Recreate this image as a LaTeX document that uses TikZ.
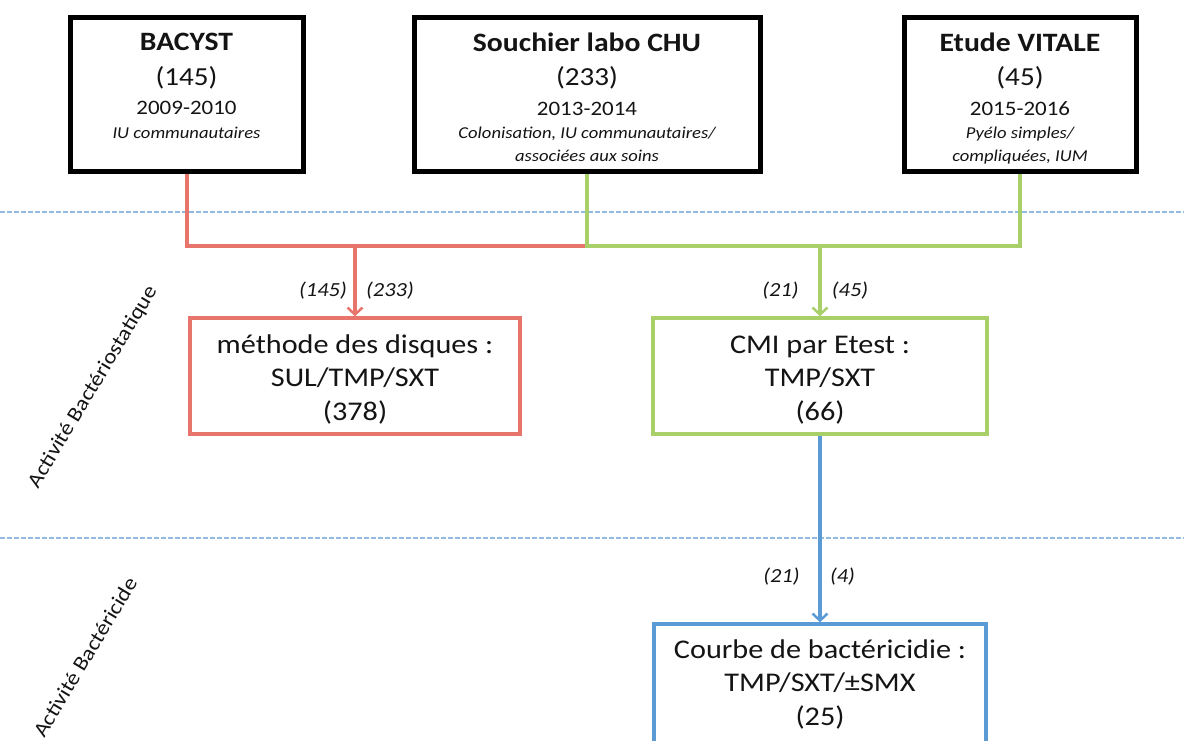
\documentclass[tikz,border=0pt]{standalone}
\usepackage{fontspec}
\setmainfont[FakeStretch=1.12]{Carlito}
\usetikzlibrary{arrows.meta}
\definecolor{cred}{HTML}{E8756B}
\definecolor{cgreen}{HTML}{A9CF68}
\definecolor{cblue}{HTML}{5B9BD5}
\definecolor{cdash}{HTML}{92BBE3}
\definecolor{ctext}{HTML}{141414}
\tikzset{
  srcbox/.style={draw=black, line width=5pt, fill=white, align=center, inner sep=0pt, text=ctext,
    font={\fontsize{20}{23.5}\selectfont\lineskiplimit=-100pt\lineskip=0pt}},
  resbox/.style={line width=3.5pt, fill=white, align=center, inner sep=0pt, text=ctext,
    font={\fontsize{27}{33.5}\selectfont\lineskiplimit=-100pt\lineskip=0pt}},
  conn/.style={line width=4pt},
  arr/.style={line width=4pt, -{Straight Barb[length=7pt,width=15pt,line width=2.5pt]}},
  cnt/.style={font=\fontsize{20}{24}\selectfont\itshape, text=ctext, inner sep=0pt},
  sep/.style={draw=cdash, line width=1.3pt, dash pattern=on 5pt off 2pt},
  zone/.style={font=\fontsize{20.8}{24}\selectfont, rotate=59, text=ctext}
}
\newcommand{\Ttl}[1]{{\fontsize{26.5}{30}\selectfont\bfseries #1}}
\newcommand{\Num}[1]{{\fontsize{26}{30}\selectfont #1}}
\newcommand{\Dat}[1]{{\fontsize{20.5}{24}\selectfont #1}}
\newcommand{\Sub}[1]{{\fontsize{16.6}{24}\selectfont\itshape #1}}
\newcommand{\Top}[1]{\rule{0pt}{#1}}
\newcommand{\Bot}[1]{\rule[-#1]{0pt}{#1}}
\begin{document}
\begin{tikzpicture}[x=1pt,y=-1pt]
\useasboundingbox (0,0) rectangle (1184,740);
\clip (0,0) rectangle (1184,740);
% separators
\draw[sep] (0,212) -- (1184,212);
\draw[sep] (0,538) -- (1184,538);
% zone labels
\node[zone] (zstat) at (93,387) {Activité Bactériostatique};
\node[zone] (zcid) at (85,657) {Activité Bactéricide};
% source boxes
\node[srcbox, minimum width=233, minimum height=154] (bacyst) at (186.5,94)
  {\Top{20pt}\Ttl{BACYST}\\[11pt]\Num{(145)}\\[6pt]\Dat{2009-2010}\\\Sub{IU communautaires}\Bot{19.5pt}};
\node[srcbox, minimum width=346, minimum height=154] (souch) at (587,94)
  {\Top{28.5pt}\Ttl{Souchier labo CHU}\\[11pt]\Num{(233)}\\[6pt]\Dat{2013-2014}\\\Sub{Colonisation, IU communautaires/}\\[-1pt]\Sub{associées aux soins}\Bot{4pt}};
\node[srcbox, minimum width=232, minimum height=154] (vital) at (1020,94)
  {\Top{28.5pt}\Ttl{Etude VITALE}\\[11pt]\Num{(45)}\\[6pt]\Dat{2015-2016}\\\Sub{Pyélo simples/}\\[-1pt]\Sub{compliquées, IUM}\Bot{4pt}};
% result boxes
\node[resbox, draw=cred, minimum width=330, minimum height=116] (disq) at (355,376)
  {\Top{27pt}méthode des disques :\\SUL/TMP/SXT\\(378)\Bot{6pt}};
\node[resbox, draw=cgreen, minimum width=334, minimum height=116] (cmi) at (820,376)
  {\Top{27pt}CMI par Etest :\\TMP/SXT\\(66)\Bot{6pt}};
\node[resbox, draw=cblue, minimum width=332, minimum height=168] (courbe) at (820,708)
  {\Top{27pt}Courbe de bactéricidie :\\TMP/SXT/±SMX\\(25)\Bot{60pt}};
% junction coordinate
\coordinate (jl) at (0,246);
% connectors
\draw[conn, cred] (bacyst.south) -- (bacyst.south |- jl) -- (souch.south |- jl);
\draw[conn, cgreen] (souch.south) -- (souch.south |- jl) -- (vital.south |- jl) -- (vital.south);
\draw[arr, cred] (disq.north |- jl) -- (disq.north);
\draw[arr, cgreen] (cmi.north |- jl) -- (cmi.north);
\draw[arr, cblue] (cmi.south) -- (courbe.north);
% count labels
\node[cnt] (c1) at (323,291) {(145)};
\node[cnt] (c2) at (390,291) {(233)};
\node[cnt] (c3) at (780.5,291) {(21)};
\node[cnt] (c4) at (850,291) {(45)};
\node[cnt] (c5) at (781.5,577) {(21)};
\node[cnt] (c6) at (842.5,577) {(4)};
\end{tikzpicture}
\end{document}
